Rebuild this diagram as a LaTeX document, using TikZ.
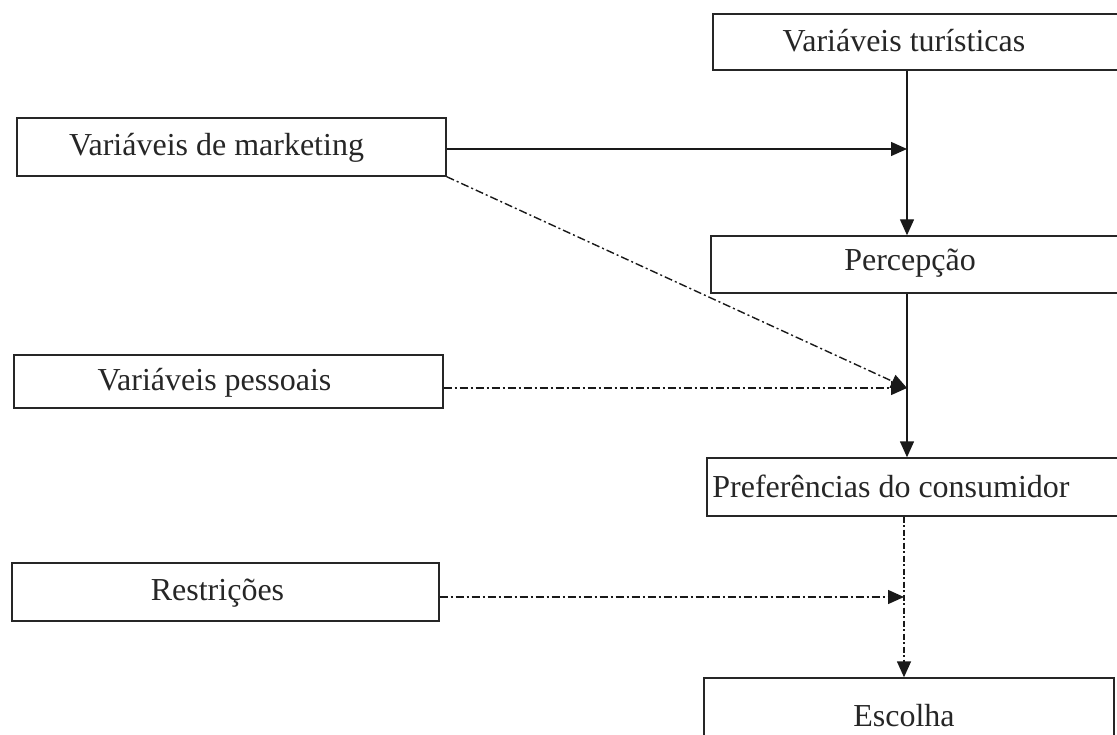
\documentclass[tikz,border=0pt]{standalone}
\usepackage{fontspec}
\setmainfont{Liberation Serif}
\usetikzlibrary{arrows.meta}
\begin{document}
\begin{tikzpicture}[x=1pt,y=-1pt,
  box/.style={draw=black!85, line width=1.4pt, rectangle, inner sep=0pt},
  lbl/.style={font=\fontsize{32}{37}\selectfont, text=black!85},
  conn/.style={draw=black!90, line width=1.4pt, -{Triangle[length=16pt,width=14pt]}},
  dd/.style={conn, line width=1.4pt, dash pattern=on 8pt off 3pt on 2pt off 3pt},
  dv/.style={conn, line width=1.5pt, dash pattern=on 6pt off 2.5pt on 2pt off 2.5pt}]
\useasboundingbox (0,0) rectangle (1117,735);
% right column
\node[box, minimum width=408pt, minimum height=56pt, label={[lbl,xshift=-13pt,yshift=1pt]center:Variáveis turísticas}] (tur) at (917,42) {};
\node[box, minimum width=410pt, minimum height=57pt, label={[lbl,xshift=-6pt,yshift=1pt]center:Percepção}] (perc) at (916,264.5) {};
\node[box, minimum width=414pt, minimum height=58pt, label={[lbl,xshift=-23pt,yshift=1pt]center:Preferências do consumidor}] (pref) at (914,487) {};
\node[box, minimum width=410pt, minimum height=67pt, label={[lbl,xshift=-5pt,yshift=-4pt]center:Escolha}] (esc) at (909,711.5) {};
% left column
\node[box, minimum width=429pt, minimum height=58pt, label={[lbl,xshift=-15pt,yshift=-1pt]center:Variáveis de marketing}] (mkt) at (231.5,147) {};
\node[box, minimum width=429pt, minimum height=53pt, label={[lbl,xshift=-14pt,yshift=-1pt]center:Variáveis pessoais}] (pes) at (228.5,381.5) {};
\node[box, minimum width=427pt, minimum height=58pt, label={[lbl,xshift=-8pt,yshift=-1pt]center:Restrições}] (res) at (225.5,592) {};
% junctions
\coordinate (spine) at (907,0);
\coordinate (dspine) at (904,0);
\coordinate (m1) at (907,149);
\coordinate (j1) at (907,388);
\coordinate (j2) at (904,597);
% connectors
\draw[conn] (tur.south -| spine) -- (perc.north -| spine);
\draw[conn] (mkt.east |- m1) -- (m1);
\draw[dd] (mkt.south east) -- (j1);
\draw[dd] (pes.east |- j1) -- (j1);
\draw[conn] (perc.south -| spine) -- (pref.north -| spine);
\draw[dv] (pref.south -| dspine) -- (esc.north -| dspine);
\draw[dd] (res.east |- j2) -- (j2);
\end{tikzpicture}
\end{document}
